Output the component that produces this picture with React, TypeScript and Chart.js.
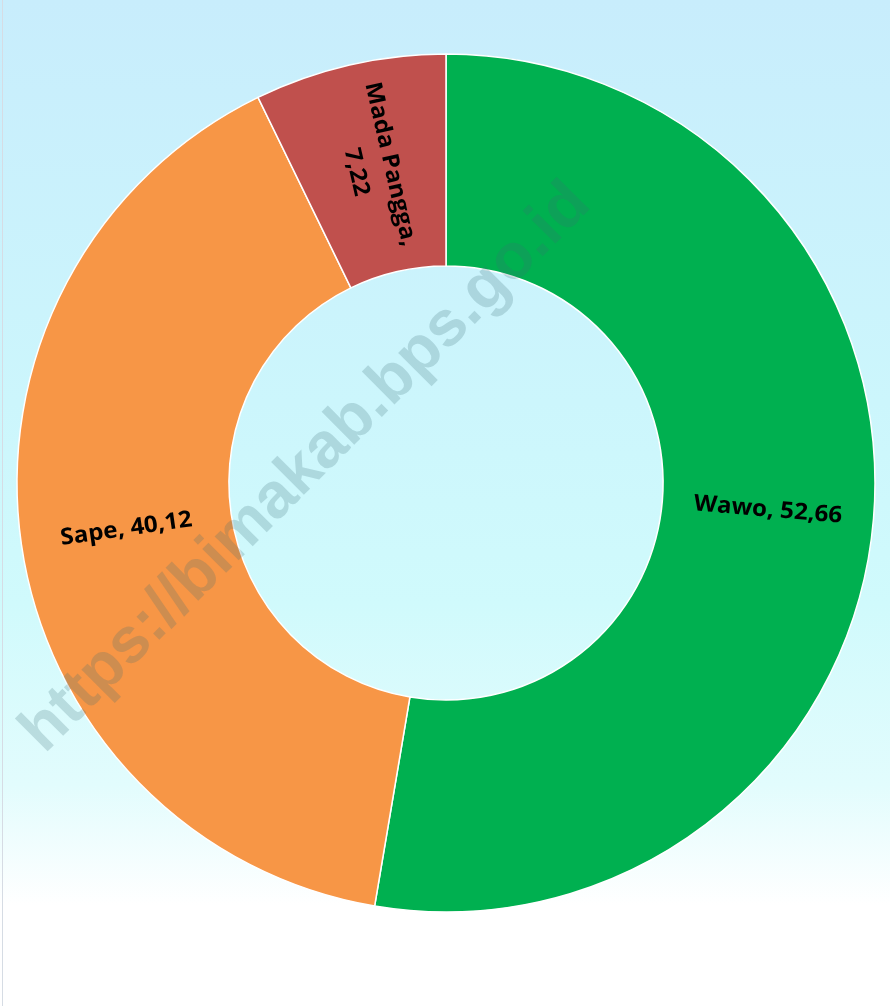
import React, { useEffect, useRef } from "react";
import { Chart, registerables } from "chart.js";

Chart.register(...registerables);

const categories = ["Wawo", "Sape", "Mada Pangga"];
const values = [52.66, 40.12, 7.22];
const sliceColors = ["#00B050", "#F79646", "#C0504D"];
const watermarkText = "https://bimakab.bps.go.id";

const fmt = (v: number) => v.toFixed(2).replace(".", ",");

const LABEL_FONT = "bold 23px 'Open Sans'";
const LABEL_STRETCH = 1.05;
const LINE_HEIGHT = 35;

const sliceLabelPlugin = {
  id: "sliceLabels",
  afterDatasetsDraw(chart: any) {
    const ctx = chart.ctx;
    const meta = chart.getDatasetMeta(0);
    const total = values.reduce((a, b) => a + b, 0);
    meta.data.forEach((arc: any, i: number) => {
      const p = arc.getProps(["x", "y", "startAngle", "endAngle", "innerRadius", "outerRadius"], true);
      const mid = (p.startAngle + p.endAngle) / 2;
      const r = (p.innerRadius + p.outerRadius) / 2;
      const cx = p.x + Math.cos(mid) * r;
      const cy = p.y + Math.sin(mid) * r;
      let rot = mid;
      if (Math.cos(rot) < 0) rot += Math.PI;
      const lines =
        values[i] / total < 0.1
          ? [categories[i] + ",", fmt(values[i])]
          : [categories[i] + ", " + fmt(values[i])];
      ctx.save();
      ctx.translate(cx, cy);
      ctx.rotate(rot);
      ctx.scale(LABEL_STRETCH, 1);
      ctx.font = LABEL_FONT;
      ctx.fillStyle = "#000000";
      ctx.textAlign = "center";
      ctx.textBaseline = "middle";
      lines.forEach((ln, k) => {
        ctx.fillText(ln, 0, (k - (lines.length - 1) / 2) * LINE_HEIGHT);
      });
      ctx.restore();
    });
  },
};

const watermarkPlugin = {
  id: "watermark",
  afterDraw(chart: any) {
    const ctx = chart.ctx;
    ctx.save();
    ctx.translate(306, 468);
    ctx.rotate(-Math.PI / 4);
    ctx.font = "bold 64px 'Liberation Sans'";
    ctx.fillStyle = "rgba(60,110,120,0.22)";
    ctx.textAlign = "center";
    ctx.textBaseline = "middle";
    ctx.fillText(watermarkText, 0, 0);
    ctx.restore();
  },
};

export default function App() {
  const canvasRef = useRef<HTMLCanvasElement | null>(null);

  useEffect(() => {
    document.body.style.margin = "0";
    const canvas = canvasRef.current;
    if (!canvas) return;
    const chart = new Chart(canvas, {
      type: "doughnut",
      data: {
        labels: categories,
        datasets: [
          {
            data: values,
            backgroundColor: sliceColors,
            borderColor: "#FFFFFF",
            borderWidth: 1.5,
          },
        ],
      },
      options: {
        responsive: false,
        animation: false,
        radius: 429,
        cutout: "50.6%",
        layout: { padding: { left: 2, right: 0, top: 0, bottom: 40 } },
        plugins: {
          legend: { display: false },
          tooltip: { enabled: false },
        },
      } as any,
      plugins: [sliceLabelPlugin, watermarkPlugin],
    });
    return () => chart.destroy();
  }, []);

  return (
    <div
      style={{
        position: "relative",
        width: 890,
        height: 1006,
        background:
          "linear-gradient(to bottom, rgb(200,237,252) 0%, rgb(204,246,252) 40%, rgb(208,250,252) 60%, rgb(226,252,253) 78%, rgb(255,255,255) 90%, rgb(255,255,255) 100%)",
        overflow: "hidden",
      }}
    >
      <div
        style={{
          position: "absolute",
          left: 2,
          top: 0,
          width: 1,
          height: 1006,
          background: "#D6DCE4",
        }}
      />
      <canvas ref={canvasRef} width={890} height={1006} style={{ position: "absolute", left: 0, top: 0 }} />
    </div>
  );
}
